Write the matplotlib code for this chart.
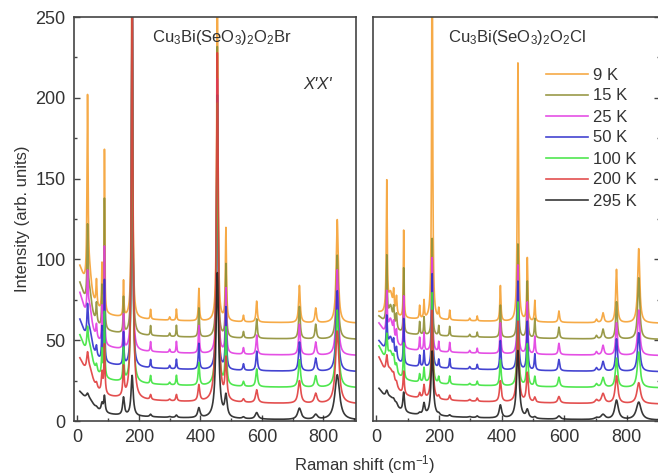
import numpy as np
import matplotlib
matplotlib.use("Agg")
import matplotlib.pyplot as plt
from matplotlib.ticker import MultipleLocator

plt.rcParams['font.family'] = ['Liberation Sans', 'DejaVu Sans']
plt.rcParams['mathtext.fontset'] = 'custom'
plt.rcParams['mathtext.rm'] = 'Liberation Sans'
plt.rcParams['mathtext.it'] = 'Liberation Sans:italic'

# temperatures and colours (legend order = drawing order)
temps = ['9 K', '15 K', '25 K', '50 K', '100 K', '200 K', '295 K']
colors = ['#f5a133', '#8f8f35', '#e23de2', '#3030cc', '#3de43d', '#e03c3c', '#222222']

# background: vertical offset, Rayleigh tail amplitude
offsets = [60, 50, 40, 30, 20, 10, 0]
tail_br = [34, 34, 38, 31, 31, 26, 15]
tail_cl = [4, 12, 18, 17, 24, 27, 17]
# line broadening with temperature
broadening = [1.0, 1.0, 1.05, 1.15, 1.35, 1.7, 2.3]

# Cu3Bi(SeO3)2O2Br: peak position, half width, heights for 9..295 K
pos_br = [33, 40, 62, 80, 88, 150, 178, 238, 300, 322, 395, 455, 483, 540, 583, 722, 775, 845]
hw_br = [2.0, 8, 2, 1.5, 1.2, 1.5, 1.8, 1.5, 2, 1.5, 2, 2.2, 2, 2, 2.5, 3, 3, 4]
h_br = [
    [115, 15, 16, 28, 100, 22, 300, 6, 2, 7, 20, 230, 57, 4, 13, 23, 9, 64],
    [45, 15, 12, 25, 80, 22, 280, 6, 2, 7, 18, 180, 45, 4, 12, 20, 9, 52],
    [25, 14, 8, 22, 60, 21, 260, 6, 2, 7, 17, 170, 40, 4, 12, 19, 8, 53],
    [18, 12, 6, 20, 50, 20, 250, 5, 2, 6, 16, 170, 38, 4, 12, 18, 8, 50],
    [13, 12, 4, 16, 40, 20, 240, 5, 1.5, 6, 14, 175, 35, 3, 11, 17, 7, 48],
    [10, 10, 3, 12, 30, 18, 245, 3, 1, 4, 10, 216, 25, 2, 8, 14, 6, 45],
    [3, 5, 1, 5, 10, 11, 25, 1.5, 0.5, 1.5, 6, 90, 13, 1, 4, 7, 3, 28],
]

# Cu3Bi(SeO3)2O2Cl
pos_cl = [33, 45, 55, 64, 87, 138, 152, 178, 199, 234, 298, 322, 396, 452, 482, 506, 583, 703, 724, 767, 838]
hw_cl = [1.8, 8, 2, 2, 1.3, 1.5, 1.5, 1.8, 1.5, 1.5, 2, 1.5, 2, 2.2, 2, 1.8, 2.5, 3, 3.5, 3, 4]
h_cl = [
    [80, 14, 12, 11, 54, 8, 11, 260, 6, 6, 1.5, 3, 22, 160, 39, 13, 7, 2, 6, 33, 46],
    [40, 14, 10, 9, 40, 8, 11, 60, 6, 6, 1.5, 3, 20, 58, 35, 12, 7, 2, 6, 23, 38],
    [25, 14, 9, 8, 32, 8, 11, 58, 6, 6, 1.5, 3, 19, 55, 32, 11, 7, 2, 6, 20, 28],
    [20, 13, 8, 7, 28, 7, 10, 58, 5, 6, 1.5, 3, 18, 55, 30, 10, 7, 2, 6, 20, 24],
    [15, 12, 6, 5, 22, 5, 9, 56, 4, 5, 1, 2.5, 16, 52, 26, 6, 6, 2, 6, 18, 22],
    [10, 10, 4, 3, 14, 3, 8, 55, 2, 3, 1, 2, 13, 50, 18, 3, 4, 2, 6, 17, 13],
    [4, 6, 2, 2, 12, 1, 7, 40, 1, 1, 0.5, 1, 8, 42, 5, 1, 2, 1, 3, 12, 11],
]

x = np.arange(8, 906, 0.2)


def spectrum(k, pos, hw, heights, tail):
    y = offsets[k] + tail[k] / (1 + (x / 30) ** 2) + 3 / (1 + (x / 400) ** 2)
    for p, w, h in zip(pos, hw, heights[k]):
        w = w * broadening[k]
        y = y + h / (1 + ((x - p) / w) ** 2)
    return y


fig = plt.figure(figsize=(6.58, 4.76), dpi=100)
ax1 = fig.add_axes([74 / 658, 55 / 476, 282 / 658, 404 / 476])
ax2 = fig.add_axes([373 / 658, 55 / 476, 287 / 658, 404 / 476])

for k in range(len(temps)):
    ax1.plot(x, spectrum(k, pos_br, hw_br, h_br, tail_br), color=colors[k], lw=1.2, alpha=0.9)
    ax2.plot(x, spectrum(k, pos_cl, hw_cl, h_cl, tail_cl), color=colors[k], lw=1.2, alpha=0.9,
             label=temps[k])

for ax in (ax1, ax2):
    ax.set_xlim(-11, 906)
    ax.set_ylim(0, 250)
    ax.xaxis.set_major_locator(MultipleLocator(200))
    ax.xaxis.set_minor_locator(MultipleLocator(100))
    ax.yaxis.set_major_locator(MultipleLocator(50))
    ax.yaxis.set_minor_locator(MultipleLocator(25))
    for s in ax.spines.values():
        s.set_color('#444444')
        s.set_linewidth(1.2)
    ax.tick_params(which='both', direction='in', colors='#444444', labelcolor='#333333',
                   labelsize=13, pad=6)
    ax.tick_params(which='major', length=4, width=1)
    ax.tick_params(which='minor', length=2.5, width=1)

ax1.tick_params(axis='y', which='both', left=True, right=False)
ax2.tick_params(axis='y', which='both', left=False, right=True, labelleft=False)

ax1.set_ylabel('Intensity (arb. units)', fontsize=12, color='#333333', labelpad=4)
fig.text(365 / 658, 1 - 465 / 476, r'Raman shift (cm$^{-1}$)', fontsize=12, color='#333333',
         ha='center', va='center')

ax1.text(0.525, 0.95, r'Cu$_3$Bi(SeO$_3$)$_2$O$_2$Br', transform=ax1.transAxes, fontsize=12,
         color='#333333', ha='center', va='center')
ax1.text(0.865, 0.832, "X'X'", transform=ax1.transAxes, fontsize=12, style='italic',
         color='#333333', ha='center', va='center')
ax2.text(0.502, 0.95, r'Cu$_3$Bi(SeO$_3$)$_2$O$_2$Cl', transform=ax2.transAxes, fontsize=12,
         color='#333333', ha='center', va='center')

leg = ax2.legend(loc='upper left', bbox_to_anchor=(0.604, 0.875), frameon=False, fontsize=12,
                 handlelength=2.5, handletextpad=0.3, labelspacing=0.36, borderpad=0,
                 borderaxespad=0)
for t in leg.get_texts():
    t.set_color('#333333')

fig.savefig('out.png', dpi=100)
